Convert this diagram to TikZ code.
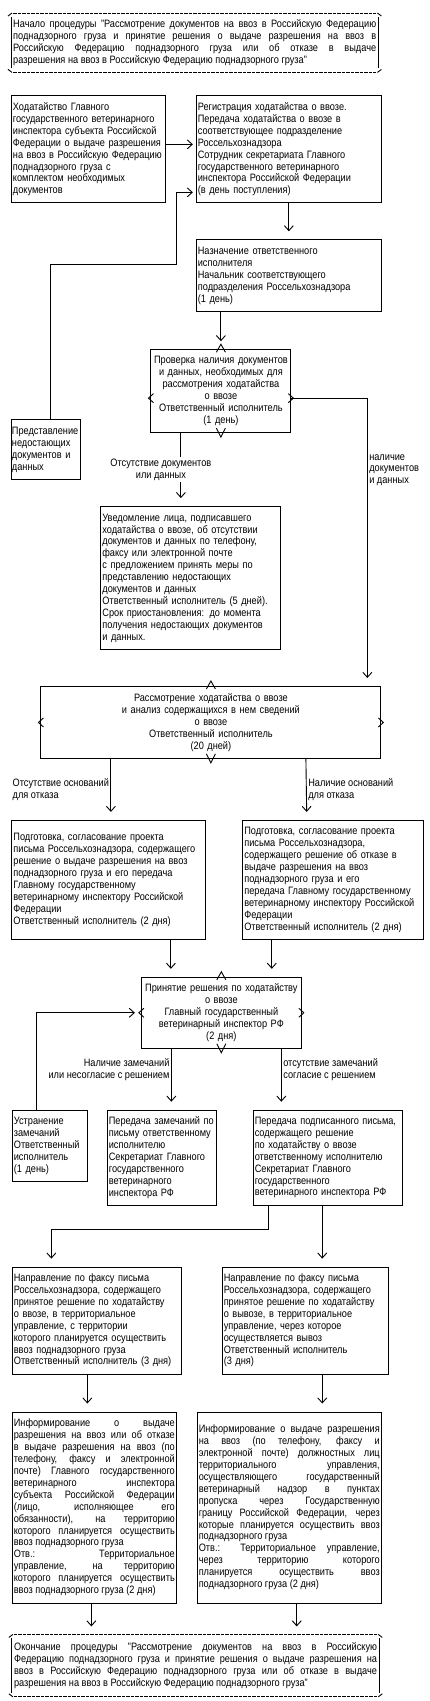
\documentclass[tikz,border=0pt]{standalone}
\usepackage{fontspec}
\setmainfont{Liberation Sans}[FakeStretch=0.86]
\usepackage{tikz}
\usetikzlibrary{arrows.meta, positioning}
\tikzstyle{box} = [rectangle, draw=black, line width=0.9pt, align=left, inner xsep=1.5pt, inner ysep=1pt]
\tikzstyle{decision} = [box, align=center]
\tikzstyle{term} = [rectangle, align=justify, inner xsep=2pt, inner ysep=1pt]
\tikzstyle{arrow} = [line width=0.9pt, -{Straight Barb[length=5pt, width=9pt]}, shorten >=8pt]
\tikzstyle{note} = [inner sep=1.5pt]
\tikzstyle{frame} = [line width=0.9pt]
\tikzstyle{termdash} = [line width=0.9pt, dash pattern=on 3.5pt off 1pt]
\newcommand{\chartfont}{\fontsize{10.7}{11.9}\selectfont\parindent=0pt\tolerance=10000\hbadness=10000}
% ascii-like marks of a decision box
\newcommand{\decmarks}[2]{%
  \draw[frame] ([xshift=-4.5pt,yshift=-3pt]#1.north) -- ([yshift=5pt]#1.north) -- ([xshift=4.5pt,yshift=-3pt]#1.north);
  \draw[frame] ([xshift=-4.5pt,yshift=5pt]#1.south) -- ([yshift=-4pt]#1.south) -- ([xshift=4.5pt,yshift=5pt]#1.south);
  \draw[frame] ([xshift=3pt,yshift=#2+4.5pt]#1.west) -- ([xshift=-2pt,yshift=#2]#1.west) -- ([xshift=3pt,yshift=#2-4.5pt]#1.west);
  \draw[frame] ([xshift=-3pt,yshift=#2+4.5pt]#1.east) -- ([xshift=2pt,yshift=#2]#1.east) -- ([xshift=-3pt,yshift=#2-4.5pt]#1.east);
}
% frame of start / end box
\newcommand{\termframe}[1]{%
  \draw[termdash] ([xshift=2pt]#1.north west) -- ([xshift=-2pt]#1.north east);
  \draw[termdash] ([xshift=2pt]#1.south west) -- ([xshift=-2pt]#1.south east);
  \draw[frame] ([yshift=-4pt]#1.north west) -- ([yshift=4pt]#1.south west);
  \draw[frame] ([yshift=-4pt]#1.north east) -- ([yshift=4pt]#1.south east);
  \draw[frame] ([shift={(-3pt,-3pt)}]#1.north west) -- ([xshift=1pt]#1.north west);
  \draw[frame] ([shift={(3pt,-3pt)}]#1.north east) -- ([xshift=-1pt]#1.north east);
  \draw[frame] ([shift={(-3pt,3pt)}]#1.south west) -- ([xshift=1pt]#1.south west);
  \draw[frame] ([shift={(3pt,3pt)}]#1.south east) -- ([xshift=-1pt]#1.south east);
}
\begin{document}
\begin{tikzpicture}[every node/.style={font=\chartfont}]
  \useasboundingbox[fill=white] (0,0) rectangle (429pt,-1701pt);

  \node[term, text width=363pt, minimum width=367pt, minimum height=59pt, anchor=north west] (start) at (11pt,-13pt) {Начало процедуры "Рассмотрение документов на ввоз в Российскую Федерацию\linebreak поднадзорного груза и принятие решения о выдаче разрешения на ввоз в\linebreak Российскую Федерацию поднадзорного груза или об отказе в выдаче\linebreak разрешения на ввоз в Российскую Федерацию поднадзорного груза"};
  \termframe{start}

  \node[box, text width=151pt, minimum height=107pt, below right=23pt and 0pt of start.south west] (appl) {Ходатайство Главного\\государственного ветеринарного\\инспектора субъекта Российской\\Федерации о выдаче разрешения\\на ввоз в Российскую Федерацию\\поднадзорного груза с\\комплектом необходимых\\документов};
  \node[box, text width=182pt, minimum height=107pt, right=30pt of appl] (reg) {Регистрация ходатайства о ввозе.\\Передача ходатайства о ввозе в\\соответствующее подразделение\\Россельхознадзора\\Сотрудник секретариата Главного\\государственного ветеринарного\\инспектора Российской Федерации\\(в день поступления)};
  \node[box, text width=182pt, minimum height=72pt, below=36pt of reg] (assign) {Назначение ответственного\\исполнителя\\Начальник соответствующего\\подразделения Россельхознадзора\\(1 день)};
  \node[decision, text width=137pt, minimum height=83pt, below=37pt of assign.south west, xshift=25pt] (check) {Проверка наличия документов\\и данных, необходимых для\\рассмотрения ходатайства\\о ввозе\\Ответственный исполнитель\\(1 день)};
  \node[box, text width=68pt, inner xsep=0.5pt, minimum height=60pt, below right=216pt and 0pt of appl.south west] (submit) {Представление\\недостающих\\документов и\\данных};
  \node[box, text width=177pt, minimum height=143pt, below=73pt of check.south, xshift=-30pt] (notify) {Уведомление лица, подписавшего\\ходатайства о ввозе, об отсутствии\\документов и данных по телефону,\\факсу или электронной почте\\с предложением принять меры по\\представлению недостающих\\документов и данных\\Ответственный исполнитель (5 дней).\\Срок приостановления: до момента\\получения недостающих документов\\и данных.};
  \node[decision, text width=337pt, minimum height=72pt, below=36pt of notify.south, xshift=20pt] (review) {Рассмотрение ходатайства о ввозе\\и анализ содержащихся в нем сведений\\о ввозе\\Ответственный исполнитель\\(20 дней)};

  \node[box, text width=191pt, minimum height=119pt, below right=61pt and -29pt of review.south west] (grant) {Подготовка, согласование проекта\\письма Россельхознадзора, содержащего\\решение о выдаче разрешения на ввоз\\поднадзорного груза и его передача\\Главному государственному\\ветеринарному инспектору Российской\\Федерации\\Ответственный исполнитель (2 дня)};
  \node[box, text width=178pt, minimum height=119pt, right=36pt of grant] (refuse) {Подготовка, согласование проекта\\письма Россельхознадзора,\\содержащего решение об отказе в\\выдаче разрешения на ввоз\\поднадзорного груза и его\\передача Главному государственному\\ветеринарному инспектору Российской\\Федерации\\Ответственный исполнитель (2 дня)};
  \node[decision, text width=157pt, minimum height=71pt, below=37pt of grant.south east, xshift=15pt] (decide) {Принятие решения по ходатайству\\о ввозе\\Главный государственный\\ветеринарный инспектор РФ\\(2 дня)};

  \node[box, text width=72pt, minimum height=71pt, below right=61pt and -129pt of decide.south west] (fix) {Устранение\\замечаний\\Ответственный\\исполнитель\\(1 день)};
  \node[box, text width=106pt, minimum height=95pt, below right=61pt and -34pt of decide.south west] (remarks) {Передача замечаний по\\письму ответственному\\исполнителю\\Секретариат Главного\\государственного\\ветеринарного\\инспектора РФ};
  \node[box, text width=146pt, minimum height=95pt, right=36pt of remarks] (signed) {Передача подписанного письма,\\содержащего решение\\по ходатайству о ввозе\\ответственному исполнителю\\Секретариат Главного\\государственного\\ветеринарного инспектора РФ};

  \node[box, text width=166pt, minimum height=107pt, below right=61pt and -95pt of remarks.south west] (faxin) {Направление по факсу письма\\Россельхознадзора, содержащего\\принятое решение по ходатайству\\о ввозе, в территориальное\\управление, с территории\\которого планируется осуществить\\ввоз поднадзорного груза\\Ответственный исполнитель (3 дня)};
  \node[box, text width=163pt, minimum height=107pt, right=40pt of faxin] (faxout) {Направление по факсу письма\\Россельхознадзора, содержащего\\принятое решение по ходатайству\\о вывозе, в территориальное\\управление, через которое\\осуществляется вывоз\\Ответственный исполнитель\\(3 дня)};

  \node[box, align=justify, text width=161pt, minimum height=191pt, below right=37pt and 0pt of faxin.south west] (infoin) {Информирование о выдаче\linebreak разрешения на ввоз или об отказе\linebreak в выдаче разрешения на ввоз (по\linebreak телефону, факсу и электронной\linebreak почте) Главного государственного\linebreak ветеринарного инспектора\linebreak субъекта Российской Федерации\linebreak (лицо, исполняющее его\linebreak обязанности), на территорию\linebreak которого планируется осуществить\linebreak ввоз поднадзорного груза\\Отв.: Территориальное\linebreak управление, на территорию\linebreak которого планируется осуществить\linebreak ввоз поднадзорного груза (2 дня)};
  \node[box, align=justify, text width=181pt, minimum height=191pt, right=20pt of infoin] (infoout) {Информирование о выдаче разрешения\linebreak на ввоз (по телефону, факсу и\linebreak электронной почте) должностных лиц\linebreak территориального управления,\linebreak осуществляющего государственный\linebreak ветеринарный надзор в пунктах\linebreak пропуска через Государственную\linebreak границу Российской Федерации, через\linebreak которые планируется осуществить ввоз\linebreak поднадзорного груза\\Отв.: Территориальное управление,\linebreak через территорию которого\linebreak планируется осуществить ввоз\linebreak поднадзорного груза (2 дня)\par\vspace*{16pt}};

  \node[term, text width=363pt, minimum width=367pt, minimum height=62pt, below right=31pt and 0pt of infoin.south west] (finish) {Окончание процедуры "Рассмотрение документов на ввоз в Российскую\linebreak Федерацию поднадзорного груза и принятие решения о выдаче разрешения на\linebreak ввоз в Российскую Федерацию поднадзорного груза или об отказе в выдаче\linebreak разрешения на ввоз в Российскую Федерацию поднадзорного груза"};
  \termframe{finish}

  \decmarks{check}{-7pt}
  \decmarks{review}{0pt}
  \decmarks{decide}{0pt}

  % connectors
  \draw[arrow, shorten >=3pt] ([yshift=5pt]appl.east) -- ([yshift=5pt]reg.west);
  \draw[arrow, shorten >=3pt] ([xshift=4.5pt]submit.north) -- ++(0,155pt) -| ([xshift=-19pt,yshift=-43pt]reg.west) -- ([yshift=-43pt]reg.west);
  \draw[arrow] (reg) -- (assign);
  \draw[arrow] (check.north |- assign.south) -- (check.north);
  \draw[arrow] ([yshift=-7pt]check.east) -| node[note, right, pos=0.625, align=left] {наличие\\документов\\и данных} ([xshift=-14pt]review.north east);
  \draw[arrow] ([xshift=-40pt]check.south) -- node[note, fill=white, align=center, xshift=-20pt] {Отсутствие документов\\или данных} ([xshift=-10pt]notify.north);
  \draw[arrow] ([xshift=-100pt]review.south) -- node[note, left, align=left] {Отсутствие оснований\\для отказа} ([xshift=2pt]grant.north);
  \draw[arrow] ([xshift=95pt]review.south) -- node[note, right, align=left] {Наличие оснований\\для отказа} ([xshift=-26.5pt]refuse.north);
  \draw[arrow] ([xshift=62pt]grant.south) -- ([xshift=62pt]grant.south |- decide.north);
  \draw[arrow] ([xshift=-61.5pt]refuse.south) -- ([xshift=-61.5pt]refuse.south |- decide.north);
  \draw[arrow, shorten >=6pt] ([xshift=-13.5pt]fix.north) |- (decide.west);
  \draw[arrow] ([xshift=-50pt]decide.south) -- node[note, left, align=right, pos=0.35] {Наличие замечаний\\или несогласие с решением} ([xshift=-50pt]decide.south |- remarks.north);
  \draw[arrow] ([xshift=60pt]decide.south) -- node[note, right, align=left, pos=0.35] {отсутствие замечаний\\согласие с решением} ([xshift=60pt]decide.south |- signed.north);
  \draw[arrow] ([xshift=-59.5pt]signed.south) -- ++(0,-24pt) -| ([xshift=-45.5pt]faxin.north);
  \draw[arrow] ([xshift=-5.5pt]signed.south) -- ([xshift=-5.5pt]signed.south |- faxout.north);
  \draw[arrow] ([xshift=-9.5pt]faxin.south) -- ([xshift=-9.5pt]faxin.south |- infoin.north);
  \draw[arrow] ([xshift=17pt]faxout.south) -- ([xshift=17pt]faxout.south |- infoout.north);
  \draw[arrow] ([xshift=-3pt]infoin.south) -- ([xshift=-3pt]infoin.south |- finish.north);
  \draw[arrow] ([xshift=7.5pt]infoout.south) -- ([xshift=7.5pt]infoout.south |- finish.north);
\end{tikzpicture}
\end{document}
